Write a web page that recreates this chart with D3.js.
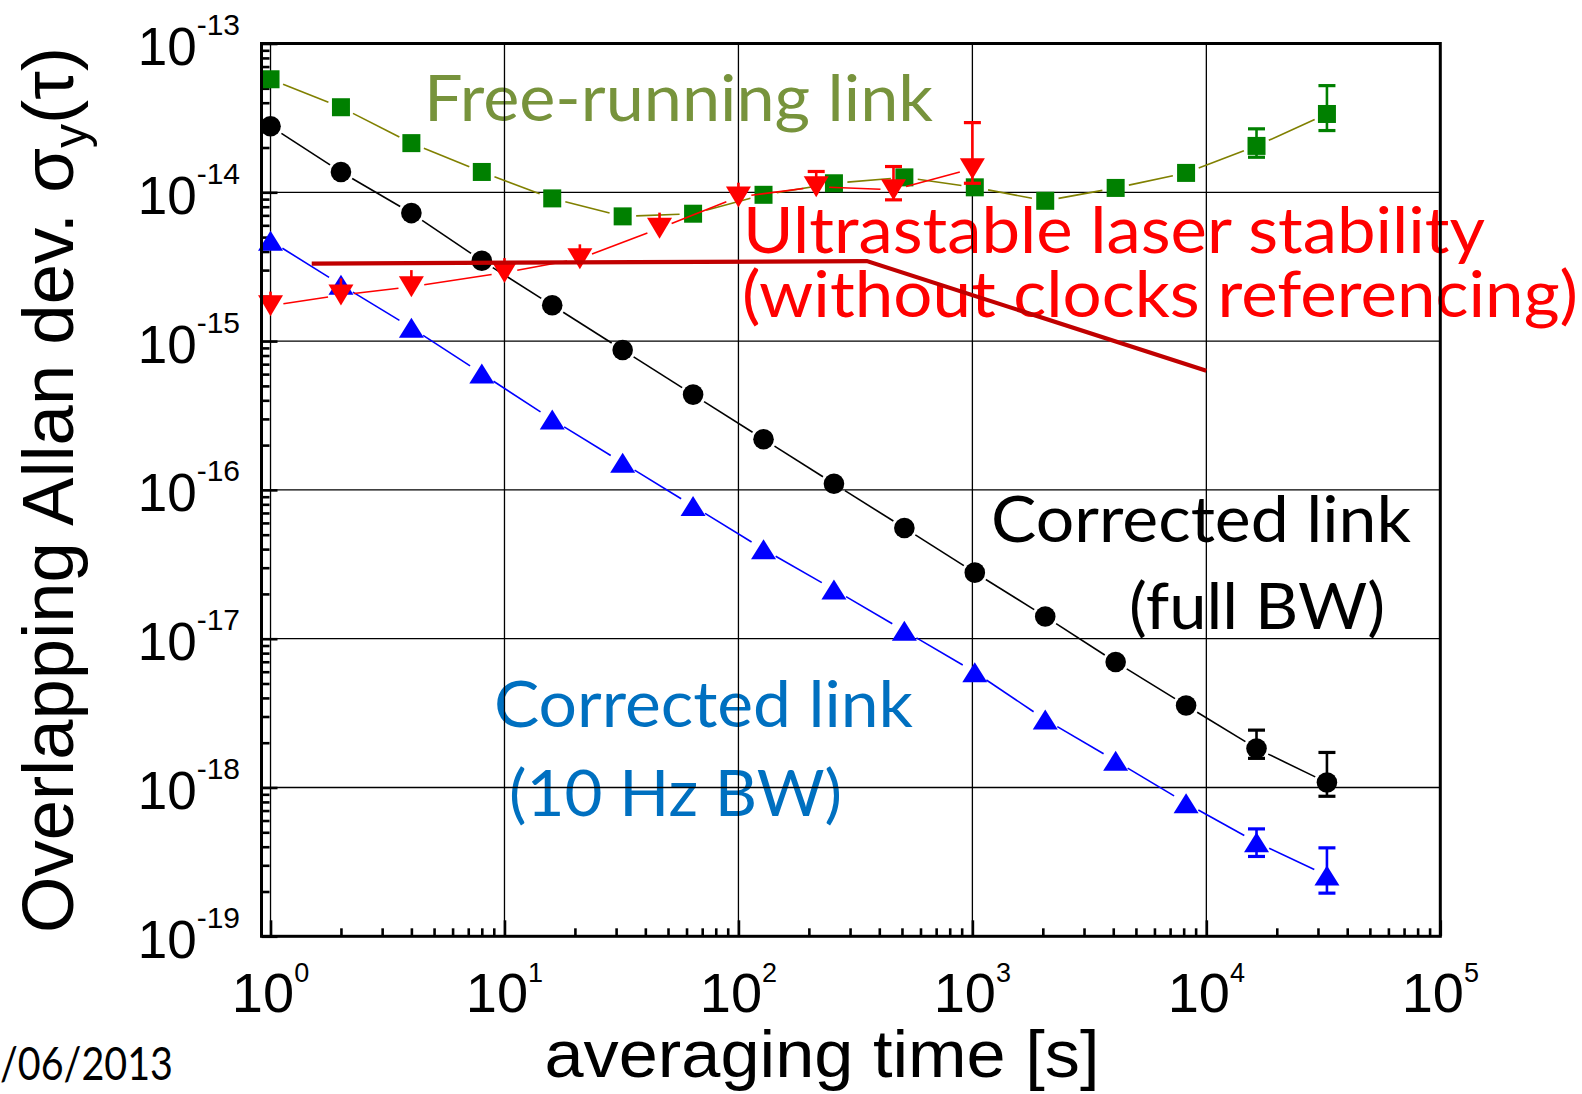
<!DOCTYPE html>
<html><head><meta charset="utf-8">
<script src="https://cdn.jsdelivr.net/npm/d3@7"></script>
<style>body{margin:0;background:#fff;} svg{display:block;}</style>
</head><body>
<svg id="c" width="1582" height="1094"></svg>
<script>
// ---------------- DATA ----------------
const tau = [1,2,4,8,16,32,64,128,256,512,1024,2048,4096,8192,16384,32768];
const corrFull = [2.78e-14,1.37e-14,7.25e-15,3.47e-15,1.74e-15,8.72e-16,4.37e-16,2.19e-16,1.10e-16,5.55e-17,2.78e-17,1.41e-17,6.97e-18,3.56e-18,1.83e-18,1.08e-18];
const corrFullErrTau = [16384, 32768];
const corrFullErrLo = [1.57e-18, 8.73e-19];
const corrFullErrHi = [2.43e-18, 1.72e-18];

const corr10Hz = [4.72e-15,2.39e-15,1.23e-15,6.05e-16,2.97e-16,1.52e-16,7.79e-17,3.99e-17,2.14e-17,1.13e-17,5.96e-18,2.86e-18,1.51e-18,7.85e-19,4.28e-19,2.56e-19];
const corr10HzErrTau = [16384, 32768];
const corr10HzErrLo = [3.44e-19, 1.95e-19];
const corr10HzErrHi = [5.27e-19, 3.93e-19];

const freeRun = [5.75e-14,3.73e-14,2.14e-14,1.37e-14,9.1e-15,6.89e-15,7.18e-15,9.62e-15,1.15e-14,1.26e-14,1.08e-14,8.77e-15,1.07e-14,1.35e-14,2.05e-14,3.36e-14];
const freeRunErrTau = [16384, 32768];
const freeRunErrLo = [1.72e-14, 2.60e-14];
const freeRunErrHi = [2.67e-14, 5.21e-14];

const laserTau = [1, 2, 4, 10, 21, 46, 100, 215, 460, 1000];
const laser = [1.73e-15,2.04e-15,2.32e-15,2.89e-15,3.58e-15,5.73e-15,9.3e-15,1.09e-14,1.04e-14,1.44e-14];
const laserErrHi = [2.15e-15,2.64e-15,3.0e-15,3.61e-15,4.47e-15,7.3e-15,1.16e-14,1.38e-14,1.49e-14,2.94e-14];
const laserErrLo = [null,null,null,null,null,null,null,null,8.9e-15,1.15e-14];
const laserCappedTau = [215, 460, 1000];

const specTau = [1.5, 354, 10000];
const spec = [3.32e-15, 3.45e-15, 6.33e-16];

const xTickExps = [0,1,2,3,4,5];
const yTickExps = [-19,-18,-17,-16,-15,-14,-13];
const minorMult = [2,3,4,5,6,7,8,9];

// ---------------- SCALES ----------------
const svg = d3.select("#c");
const x = d3.scaleLog().domain([0.915, 1e5]).range([261.5, 1440.3]);
const y = d3.scaleLog().domain([1e-19, 1e-13]).range([936.3, 43.5]);
const [X0, X1] = x.range();
const [Y1, Y0] = y.range();

// ---------------- TEXT ANNOTATIONS (under everything) ----------------
const annFont = "Lato, 'Open Sans', sans-serif";
const ann = [
  {t:"Free-running link", x:424, y:120.7, len:509, c:"#77933C"},
  {t:"Ultrastable laser stability", x:743, y:253.3, len:742, c:"#FF0000"},
  {t:"(without clocks referencing)", x:742, y:316.7, len:836, c:"#FF0000"},
  {t:"Corrected link", x:991, y:541.7, len:420, c:"#000000"},
  {t:"(full BW)", x:1129, y:629.3, len:256, c:"#000000"},
  {t:"Corrected link", x:494, y:726.5, len:419, c:"#0070C0"},
  {t:"(10 Hz BW)", x:509, y:816, len:333, c:"#0070C0"}
];
svg.append("g").selectAll("text").data(ann).join("text")
  .attr("x", d=>d.x).attr("y", d=>d.y)
  .attr("font-family", annFont).attr("font-size", 64)
  .attr("fill", d=>d.c)
  .attr("textLength", d=>d.len).attr("lengthAdjust","spacingAndGlyphs")
  .text(d=>d.t);

svg.append("text").attr("x", 0).attr("y", 1080)
  .attr("font-family", annFont).attr("font-size", 46)
  .attr("textLength", 173).attr("lengthAdjust","spacingAndGlyphs")
  .attr("fill","#000").text("/06/2013");

// ---------------- GRID ----------------
const grid = svg.append("g").attr("stroke","#000").attr("stroke-width",1.3);
xTickExps.filter(e=>e<5).forEach(e=>{
  grid.append("line").attr("x1",x(10**e)).attr("x2",x(10**e)).attr("y1",Y0).attr("y2",Y1);
});
yTickExps.filter(e=>e>-19 && e<-13).forEach(e=>{
  grid.append("line").attr("x1",X0).attr("x2",X1).attr("y1",y(10**e)).attr("y2",y(10**e));
});

// ---------------- AXES (ticks inward) ----------------
const xMajor = xTickExps.map(e=>10**e);
const xMinor = [];
xTickExps.slice(0,-1).forEach(e=>minorMult.forEach(m=>xMinor.push(m*10**e)));
const yMajor = yTickExps.map(e=>10**e);
const yMinor = [];
yTickExps.slice(0,-1).forEach(e=>minorMult.forEach(m=>yMinor.push(m*10**e)));

function styleAxis(g){
  g.select(".domain").remove();
  g.selectAll(".tick line").attr("stroke","#000").attr("stroke-width",2.6);
  g.selectAll(".tick text").remove();
}
svg.append("g").attr("transform",`translate(0,${Y1})`)
  .call(d3.axisBottom(x).tickValues(xMajor).tickSizeInner(-16).tickSizeOuter(0).tickFormat(""))
  .call(styleAxis);
svg.append("g").attr("transform",`translate(0,${Y1})`)
  .call(d3.axisBottom(x).tickValues(xMinor).tickSizeInner(-8).tickSizeOuter(0).tickFormat(""))
  .call(styleAxis);
svg.append("g").attr("transform",`translate(${X0},0)`)
  .call(d3.axisLeft(y).tickValues(yMajor).tickSizeInner(-16).tickSizeOuter(0).tickFormat(""))
  .call(styleAxis);
svg.append("g").attr("transform",`translate(${X0},0)`)
  .call(d3.axisLeft(y).tickValues(yMinor).tickSizeInner(-8).tickSizeOuter(0).tickFormat(""))
  .call(styleAxis);

// tick labels with superscripts
const axFont = "'Liberation Sans', Arial, sans-serif";
xTickExps.forEach(e=>{
  const t = svg.append("text").attr("x", x(10**e)).attr("y", 1011.7)
    .attr("text-anchor","middle").attr("font-family",axFont).attr("fill","#000");
  t.append("tspan").attr("font-size",56).text("10");
  t.append("tspan").attr("font-size",27).attr("dy",-30).text(String(e));
});
yTickExps.forEach(e=>{
  const t = svg.append("text").attr("x", 240).attr("y", y(10**e)+21.5)
    .attr("text-anchor","end").attr("font-family",axFont).attr("fill","#000");
  t.append("tspan").attr("font-size",53).text("10");
  t.append("tspan").attr("font-size",30).attr("dy",-30).text(String(e));
});

// axis titles
svg.append("text").attr("x", 822).attr("y", 1077).attr("text-anchor","middle")
  .attr("font-family",axFont).attr("font-size",66).attr("fill","#000")
  .attr("textLength",555).attr("lengthAdjust","spacingAndGlyphs")
  .text("averaging time [s]");
const yt = svg.append("text").attr("transform","translate(73,490) rotate(-90)")
  .attr("text-anchor","middle").attr("font-family",axFont).attr("font-size",72).attr("fill","#000")
  .attr("textLength",886).attr("lengthAdjust","spacingAndGlyphs");
yt.append("tspan").text("Overlapping Allan dev. σ");
yt.append("tspan").attr("font-size",48).attr("dy",14).text("y");
yt.append("tspan").attr("dy",-14).text("(τ)");

// ---------------- SERIES ----------------
const line = d3.line();
function gappedLines(g, xs, ys, color, gap){
  const pts = xs.map((t,i)=>[x(t), y(ys[i])]);
  for(let i=0;i<pts.length-1;i++){
    const [ax,ay]=pts[i],[bx,by]=pts[i+1];
    const dx=bx-ax, dy=by-ay, L=Math.hypot(dx,dy);
    if(L<=2*gap) continue;
    const ux=dx/L, uy=dy/L;
    g.append("path").attr("d", line([[ax+ux*gap, ay+uy*gap],[bx-ux*gap, by-uy*gap]]))
      .attr("stroke",color).attr("stroke-width",1.6).attr("fill","none");
  }
}
function stemsToValue(g, ts, vals, hi, lo, color, cap, capped){
  ts.forEach((t,i)=>{
    const cx=x(t), cy=y(vals[i]);
    const withCap = capped ? capped.includes(t) : true;
    if(hi[i]!=null){
      g.append("line").attr("x1",cx).attr("x2",cx).attr("y1",y(hi[i])).attr("y2",cy).attr("stroke",color).attr("stroke-width",2.6);
      if(withCap) g.append("line").attr("x1",cx-cap/2).attr("x2",cx+cap/2).attr("y1",y(hi[i])).attr("y2",y(hi[i])).attr("stroke",color).attr("stroke-width",3.2);
    }
    if(lo[i]!=null){
      g.append("line").attr("x1",cx).attr("x2",cx).attr("y1",cy).attr("y2",y(lo[i])).attr("stroke",color).attr("stroke-width",2.6);
      if(withCap) g.append("line").attr("x1",cx-cap/2).attr("x2",cx+cap/2).attr("y1",y(lo[i])).attr("y2",y(lo[i])).attr("stroke",color).attr("stroke-width",3.2);
    }
  });
}

// Blue: corrected 10 Hz BW
const gB = svg.append("g");
gappedLines(gB, tau, corr10Hz, "#0000FF", 14);
stemsToValue(gB, corr10HzErrTau, corr10HzErrTau.map(t=>corr10Hz[tau.indexOf(t)]), corr10HzErrHi, corr10HzErrLo, "#0000FF", 17);
gB.selectAll("path.m").data(tau.map((t,i)=>[t,corr10Hz[i]])).join("path").attr("class","m")
  .attr("transform", d=>`translate(${x(d[0])},${y(d[1])})`)
  .attr("d","M-12.5,10L12.5,10L0,-10Z").attr("fill","#0000FF");

// Black: corrected full BW
const gK = svg.append("g");
gappedLines(gK, tau, corrFull, "#000000", 13);
stemsToValue(gK, corrFullErrTau, corrFullErrTau.map(t=>corrFull[tau.indexOf(t)]), corrFullErrHi, corrFullErrLo, "#000000", 17);
gK.selectAll("circle").data(tau.map((t,i)=>[t,corrFull[i]])).join("circle")
  .attr("cx", d=>x(d[0])).attr("cy", d=>y(d[1])).attr("r",10.3).attr("fill","#000");

// Green: free-running
const gG = svg.append("g");
gappedLines(gG, tau, freeRun, "#808000", 13.5);
stemsToValue(gG, freeRunErrTau, freeRunErrTau.map(t=>freeRun[tau.indexOf(t)]), freeRunErrHi, freeRunErrLo, "#008000", 17);
gG.selectAll("rect").data(tau.map((t,i)=>[t,freeRun[i]])).join("rect")
  .attr("x", d=>x(d[0])-9).attr("y", d=>y(d[1])-9).attr("width",18).attr("height",18).attr("fill","#008000");

// Red: laser stability
const gR = svg.append("g");
gappedLines(gR, laserTau, laser, "#FF0000", 13);
stemsToValue(gR, laserTau, laser, laserErrHi, laserErrLo, "#FF0000", 17, laserCappedTau);
gR.selectAll("path.m").data(laserTau.map((t,i)=>[t,laser[i]])).join("path").attr("class","m")
  .attr("transform", d=>`translate(${x(d[0])},${y(d[1])})`)
  .attr("d","M-12.5,-10.5L12.5,-10.5L0,10.5Z").attr("fill","#FF0000");

// Dark red spec line
svg.append("path").attr("d", d3.line().x(d=>x(d[0])).y(d=>y(d[1]))(specTau.map((t,i)=>[t,spec[i]])))
  .attr("stroke","#C00000").attr("stroke-width",4.2).attr("fill","none");

// ---------------- FRAME ----------------
svg.append("rect").attr("x",X0).attr("y",Y0).attr("width",X1-X0).attr("height",Y1-Y0)
  .attr("fill","none").attr("stroke","#000").attr("stroke-width",3);
</script>
</body></html>
